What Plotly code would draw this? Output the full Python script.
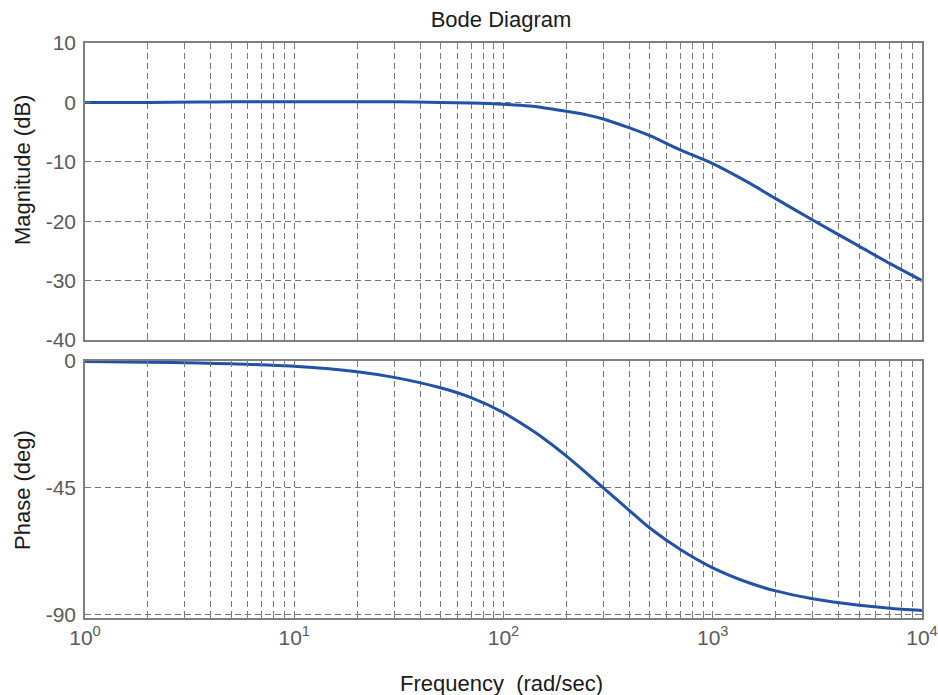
import plotly.graph_objects as go
from plotly.subplots import make_subplots

# Frequencies (rad/sec)
freq = [1, 2, 3.5, 5, 10, 20, 30, 50, 70, 100, 134, 150, 200, 250, 300,
        400, 500, 700, 1000, 1500, 2000, 3000, 5000, 7000, 10000]
# Magnitude (dB)
mag_db = [0.0, 0.0, 0.05, 0.1, 0.1, 0.1, 0.1, 0.0, -0.1, -0.3, -0.6, -0.8,
          -1.5, -2.1, -2.8, -4.3, -5.6, -8.0, -10.3, -13.6, -16.2, -19.8,
          -24.2, -27.1, -30.0]
# Phase (deg)
phase_deg = [-0.2, -0.4, -0.7, -1.0, -1.9, -3.8, -5.8, -9.5, -13.0, -18.3,
             -24.1, -26.6, -33.7, -39.8, -45.0, -53.0, -59.2, -66.8, -73.3,
             -78.7, -81.5, -84.3, -86.6, -87.6, -88.4]

# x ticks: decades (labelled) and minor multiples (grid only)
xtick_vals = [1, 10, 100, 1000, 10000]
xtick_text = ["10<sup>0</sup>", "10<sup>1</sup>", "10<sup>2</sup>",
              "10<sup>3</sup>", "10<sup>4</sup>"]
xminor_vals = [m * 10 ** d for d in range(0, 4) for m in range(2, 10)]

mag_ticks = [10, 0, -10, -20, -30, -40]
mag_ticktext = ["10", "0", "-10", "-20", "-30", "-40"]
phase_ticks = [0, -45, -90]
phase_ticktext = ["0", "-45", "-90"]

LINE_COLOR = "#2152a6"
GRID = "#767676"
FRAME = "#7f7f7f"
FAMILY = "Liberation Sans, Arial, sans-serif"
TICKFONT = dict(family=FAMILY, size=21, color="#5a5a5a")
LABELFONT = dict(family=FAMILY, size=22, color="#1a1a1a")

fig = make_subplots(rows=2, cols=1, shared_xaxes=False, vertical_spacing=0.0)

fig.add_trace(go.Scatter(x=freq, y=mag_db, mode="lines",
                         line=dict(color=LINE_COLOR, width=3, shape="spline", smoothing=0.8),
                         showlegend=False, hoverinfo="skip"), row=1, col=1)
fig.add_trace(go.Scatter(x=freq, y=phase_deg, mode="lines",
                         line=dict(color=LINE_COLOR, width=3, shape="spline", smoothing=0.8),
                         showlegend=False, hoverinfo="skip"), row=2, col=1)

axis_common = dict(showline=True, linecolor=FRAME, linewidth=1.5, mirror="ticks",
                   ticks="inside", ticklen=5, tickcolor=FRAME, tickwidth=1,
                   showgrid=True, gridcolor=GRID, gridwidth=1, griddash="6px,4px",
                   zeroline=False, tickfont=TICKFONT, automargin=False)
xminor = dict(tickmode="array", tickvals=xminor_vals, ticks="inside", ticklen=5,
              tickcolor=FRAME, showgrid=True, gridcolor=GRID, gridwidth=1,
              griddash="6px,4px")

fig.update_layout(
    width=938, height=695,
    margin=dict(l=85, r=16, t=43, b=77, autoexpand=False),
    paper_bgcolor="white", plot_bgcolor="white",
    title=dict(text="Bode Diagram", x=501 / 938, xanchor="center", y=1 - 19.5 / 695,
               yanchor="middle", automargin=False, font=LABELFONT),
    xaxis=dict(type="log", range=[0, 4], domain=[0, 1], anchor="y",
               tickmode="array", tickvals=xtick_vals, ticktext=xtick_text,
               showticklabels=False, minor=xminor, **axis_common),
    yaxis=dict(range=[-40, 10], domain=[(618 - 340) / 575, 1], anchor="x",
               tickmode="array", tickvals=mag_ticks, ticktext=mag_ticktext,
               ticklabelstandoff=3, **axis_common),
    xaxis2=dict(type="log", range=[0, 4], domain=[0, 1], anchor="y2",
                tickmode="array", tickvals=xtick_vals, ticktext=xtick_text,
                showticklabels=True, minor=xminor, **axis_common),
    yaxis2=dict(range=[-91.1, 0], domain=[0, (618 - 361) / 575], anchor="x2",
                tickmode="array", tickvals=phase_ticks, ticktext=phase_ticktext,
                ticklabelstandoff=3, **axis_common),
)

fig.add_annotation(text="Magnitude (dB)", xref="paper", yref="paper",
                   x=-63 / 837, y=(618 - 170) / 575, xanchor="center", yanchor="middle",
                   textangle=-90, showarrow=False, font=LABELFONT)
fig.add_annotation(text="Phase (deg)", xref="paper", yref="paper",
                   x=-63 / 837, y=(618 - 490) / 575, xanchor="center", yanchor="middle",
                   textangle=-90, showarrow=False, font=LABELFONT)
fig.add_annotation(text="Frequency  (rad/sec)", xref="paper", yref="paper",
                   x=(501 - 85) / 837, y=-(683 - 618) / 575, xanchor="center", yanchor="middle",
                   showarrow=False, font=LABELFONT)

fig.write_html("out.html")
